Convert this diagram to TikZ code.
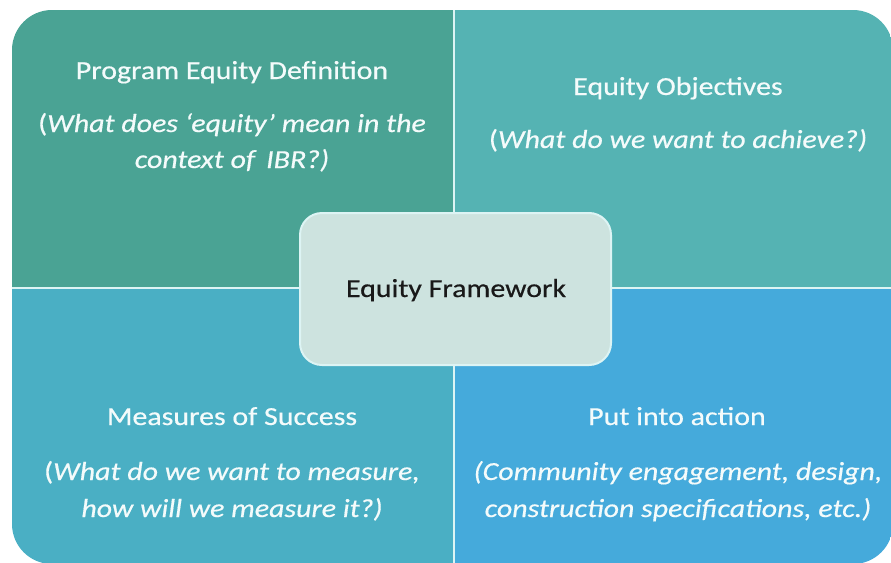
\documentclass[tikz,border=0pt]{standalone}
\usepackage{fontspec}
\setmainfont{Carlito}[FakeStretch=1.15, FakeBold=0.5]
\usetikzlibrary{positioning}
\definecolor{tlfill}{HTML}{4AA394}
\definecolor{trfill}{HTML}{55B3B3}
\definecolor{blfill}{HTML}{4AAFC4}
\definecolor{brfill}{HTML}{45AADB}
\definecolor{midfill}{HTML}{CDE3DF}
\definecolor{rim}{HTML}{DDF4F4}
\definecolor{txt}{HTML}{F4FBFB}
\tikzset{head/.style = {anchor = base, text = txt, inner sep = 0, font = \fontsize{26}{30}\selectfont},
  sub/.style = {head, font = \fontsize{26}{30}\selectfont\itshape}}

\begin{document}
\begin{tikzpicture}[x = 1pt, y = -1pt]
  \useasboundingbox (0, 0) rectangle (891, 562);
  \begin{scope}
    \clip [rounded corners = 40] (12, 10) rectangle (893, 564);
    \fill [tlfill] (12, 10) rectangle (454, 288);
    \fill [trfill] (454, 10) rectangle (893, 288);
    \fill [blfill] (12, 288) rectangle (454, 564);
    \fill [brfill] (454, 288) rectangle (893, 564);
  \end{scope}
  \draw [rim, line width = 2.5] (454, 10) -- (454, 564);
  \draw [rim, line width = 2.5] (12, 288) -- (893, 288);
  \node [head] (defhead) at (232, 79) {Program Equity Definition};
  \node [sub] (defsub) at (232, 132) {{\upshape(}What does ‘equity’ mean in the};
  \node [sub] (defsubb) at (232, 168) {context of\, IBR?)};
  \node [head] (objhead) at (678, 95) {Equity Objectives};
  \node [sub] (objsub) at (678, 148) {{\upshape(}What do we want to achieve?)};
  \node [head] (meshead) at (232, 425) {Measures of Success};
  \node [sub] (messub) at (232, 480) {{\upshape(}What do we want to measure,};
  \node [sub] (messubb) at (232, 517) {how will we measure it?)};
  \node [head] (acthead) at (677, 425) {Put into action};
  \node [sub] (actsub) at (678, 480) {(Community engagement, design,};
  \node [sub] (actsubb) at (678, 517) {construction specifications, etc.)};
  \draw [rim, fill = midfill, line width = 2, rounded corners = 22] (300, 213) rectangle (611, 365);
  \node [head, text = black!90] (frame) at (456, 297) {Equity Framework};
\end{tikzpicture}
\end{document}
